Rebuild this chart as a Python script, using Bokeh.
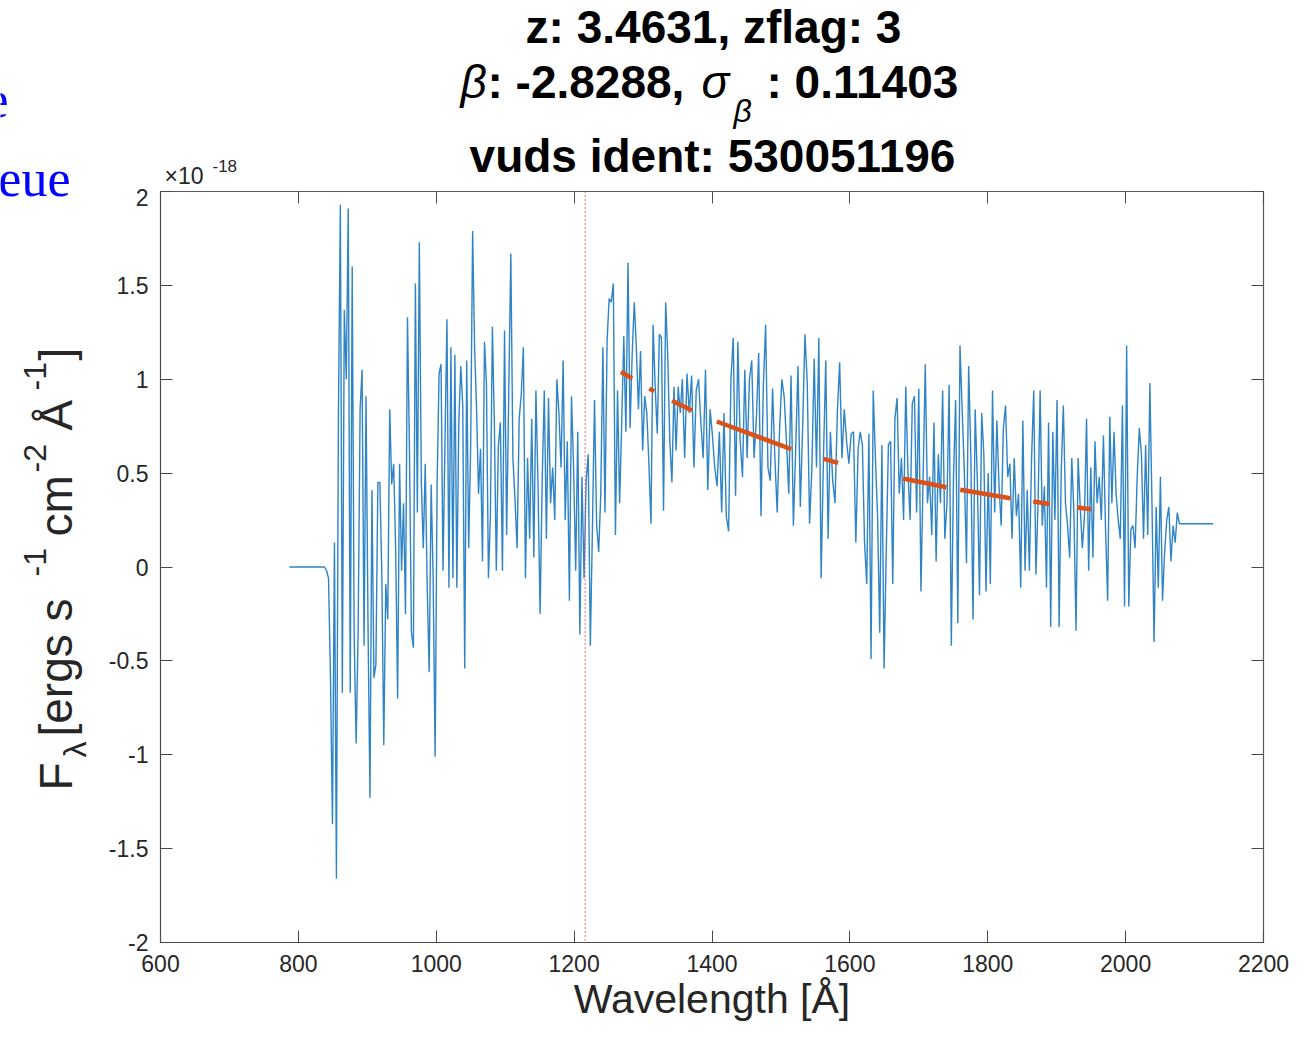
import numpy as np
from bokeh.plotting import figure
from bokeh.models import Label, LinearAxis, FixedTicker, Span, Range1d
from bokeh.layouts import column, row
from bokeh.embed import file_html
from bokeh.resources import INLINE

# ---------------- data (flux in units of 1e-18 erg s^-1 cm^-2 A^-1) ----------------
flux_a = [0.0, -0.02, -0.06, -0.59, -1.37, 0.13, -1.66, 0.79, 1.93, -0.67, 1.37, 1.0, 1.91, -0.67, 1.6,
          -0.37, -0.94, -0.35, 0.84, 1.05, -0.42, 0.91, -0.3, -1.23, 0.41, -0.59, -0.52, 0.45, 0.45, -0.04,
          -0.95, -0.09, -0.28, 0.84, 0.44, 0.55, 0.1, -0.7, 0.55, -0.02, 0.34, -0.25, 1.33, 0.62, -0.35,
          -0.43, 1.51, 0.29, 1.73, 0.46, 0.1, 0.55, -0.11, -0.56, 0.44, -0.06, -1.01, 0.43, 1.03, 1.08,
          -0.02, 0.67, 1.32, -0.11, 1.17, -0.06, 1.13, -0.11, 0.77, 1.07, 0.86, -0.54, 1.1, 0.1, 0.64,
          1.79, 1.17, 0.84, 0.39, 0.63, 0.03, 1.2, 0.98, -0.06, 0.27, 1.28, 0.77, -0.02, 0.64]
flux_b = [0.77, -0.02, 1.26, 0.17, 0.92, 1.67, 0.58, 0.36, 0.1, 0.79, 0.92, 1.17, -0.06, 0.58, 0.15,
          0.79, 0.05, 0.94, 0.43, -0.25, 0.46, 0.94, 0.15, 0.9, 0.34, 0.53, 0.25, 1.0, 0.82, 0.53,
          1.1, 0.25, 0.67, -0.18, 0.91, 0.53, -0.02, 0.72, -0.36, 0.48, -0.06, 0.46, 0.6, -0.42, 0.2,
          0.89, 0.23, 0.08, 0.39, 1.17, 0.29, 1.2, 1.43, 1.41, 1.51, 0.17, 0.94, 0.34, 0.77, 1.23,
          0.72, 1.62, 0.74, 1.13, 1.41, 1.17, 0.84, 1.15, 0.62, 0.91, 0.82, 0.55, 0.23, 1.29, 0.96,
          0.71, 1.24, 1.22, 0.3, 1.41, 1.13, 0.67, 0.45, 0.96, 0.62, 0.96, 0.82]
flux_c = [1.0, 0.58, 1.03, 0.82, 1.02, 0.53, 0.94, 1.0, 0.77, 0.58, 1.05, 0.41, 0.84, 0.7, 0.53,
          0.43, 0.72, 0.29, 0.82, 0.27, 0.19, 1.0, 1.22, 0.38, 1.2, 0.67, 0.48, 1.05, 0.58, 1.0,
          1.1, 0.58, 0.79, 1.14, 0.27, 0.96, 1.29, 0.53, 0.46, 0.95, 0.58, 0.29, 0.72, 1.0, 0.91,
          0.67, 0.39, 1.02, 0.22, 0.63, 1.07, 0.32, 0.74, 1.24, 0.98, 0.23, 0.53, 1.11, 0.53, 1.22,
          -0.06, 0.58, 1.1, 0.15, 0.72, 0.46, 0.34, 0.82, 1.09, 0.58, 0.84, 0.67, 0.55, 0.71, 0.72,
          0.13, 0.63]
flux_d = [0.72, 0.65, 0.13, -0.09, 0.71, -0.49, 0.94, 0.58, 0.27, -0.35, 0.65, -0.54, 0.08, 0.65, 0.67,
          -0.09, 0.79, 0.9, 0.39, 0.58, 0.25, 0.96, 0.51, 0.25, 0.87, 0.91, 0.29, 0.95, -0.13, 0.48,
          1.08, 0.34, 0.48, 0.17, 0.77, 0.03, 0.6, 0.34, 0.94, 0.15, 0.34, 0.97, -0.42, 0.48, 0.89,
          -0.3, 1.18, 0.84, 0.51, 0.02, 1.07, 0.6, -0.28, 0.84, 0.46, -0.15, 0.82, 0.6, -0.13, 0.5,
          -0.09, 0.94, 0.29, 0.78, 0.43, 0.22, 0.74, 0.86, 0.48, 0.55, 0.15, 0.58, 0.27, 0.39, -0.11,
          0.78, -0.02, 0.41, -0.02, 0.58, 0.94, -0.04, 0.34]
flux_e = [0.94, 0.22, 0.43, -0.11, 0.77, -0.32, 0.72, 0.25, 0.89, -0.32, 0.51, 0.86, 0.34, 0.22, 0.05,
          0.58, 0.29, -0.34, 0.58, 0.32, 0.1, 0.27, 0.79, -0.02, 0.53, 0.05, 0.67, 0.34, 0.48, 0.25,
          0.7, 0.2, -0.18, 0.8, 0.34, 0.72, 0.39, 0.25, 0.15, 0.86, -0.21, 1.18, -0.21, 0.2, 0.22,
          0.1, 0.48, 0.74, 0.6, 0.15, 0.65, 0.17, 0.98, 0.34, -0.4, 0.32, -0.11, 0.48, -0.18, 0.08,
          0.25, 0.32, 0.03, 0.22, 0.13, 0.29, 0.23]
segment_edges = [(838, 1090), (1093, 1354), (1357, 1612), (1615, 1873), (1876, 2078)]
pad_start_wave, pad_start_flux = 787, 0.0
pad_end_wave, pad_end_flux = 2127, 0.23

lya_wave = 1216

# Calzetti windows used for the power-law (beta) fit, with fit flux at window edges
fit_lo = [1268, 1309, 1342, 1407, 1562, 1677, 1760, 1866, 1930]
fit_hi = [1284, 1316, 1371, 1515, 1583, 1740, 1833, 1890, 1950]
fit_flux_lo = [1.04, 0.95, 0.886, 0.775, 0.576, 0.471, 0.411, 0.349, 0.317]
fit_flux_hi = [1.004, 0.936, 0.834, 0.628, 0.555, 0.425, 0.366, 0.336, 0.308]

xticks = [600, 800, 1000, 1200, 1400, 1600, 1800, 2000, 2200]
yticks = [-2, -1.5, -1, -0.5, 0, 0.5, 1, 1.5, 2]
ytick_labels = ["-2", "-1.5", "-1", "-0.5", "0", "0.5", "1", "1.5", "2"]

# ---------------- assemble spectrum ----------------
segs = [flux_a, flux_b, flux_c, flux_d, flux_e]
wave = [pad_start_wave]
flux = [pad_start_flux]
for (lo, hi), f in zip(segment_edges, segs):
    wave += list(np.linspace(lo, hi, len(f)))
    flux += f
wave.append(pad_end_wave)
flux.append(pad_end_flux)

FONT = "Liberation Sans"
TXT = "#262626"

# ---------------- layout geometry (pixels) ----------------
W_TOTAL = 1289
H_TOTAL = 1026
W_LEFT = 100         # tall band holding the y-axis label (full height)
H_TOP = 188          # band holding the title, right of the left band
W_RIGHT = W_TOTAL - W_LEFT
H_MAIN = H_TOTAL - H_TOP

def no_align(f):
    try:
        f.frame_align = False
    except Exception:
        pass

def blank_fig(w, h, x0, x1, y0, y1):
    f = figure(width=w, height=h, x_range=Range1d(x0, x1), y_range=Range1d(y0, y1),
               output_backend="svg", toolbar_location=None,
               x_axis_type=None, y_axis_type=None,
               min_border_left=0, min_border_right=0, min_border_top=0, min_border_bottom=0)
    f.grid.visible = False
    f.outline_line_color = None
    f.background_fill_color = "white"
    f.border_fill_color = "white"
    no_align(f)
    return f

def lab(f, px, py, text, size, align="left", style="normal", font=FONT, color="black", angle=0):
    # (px, py) is the wanted baseline position in page pixels
    shift = 0.36 * size
    if angle == 0:
        py = py - shift
    else:
        px = px - shift
    f.add_layout(Label(x=px, y=py, text=text, text_font=font, text_font_size=f"{size}px",
                       text_font_style=style, text_color=color, text_align=align,
                       text_baseline="alphabetic", angle=angle, angle_units="deg"))

# left band (full height): page coordinates, y downwards
left = blank_fig(W_LEFT, H_TOTAL, 0, W_LEFT, H_TOTAL, 0)
lab(left, 8, 118, "e", 52, align="right", font="Liberation Serif", color="#0000ff")
lab(left, 70, 197, "eue", 52, align="right", font="Liberation Serif", color="#0000ff")
lab(left, 72, 790, "F", 46, angle=90, color=TXT)
lab(left, 86, 757, "λ", 32, angle=90, color=TXT)
lab(left, 72, 736, "[ergs s", 46, angle=90, color=TXT)
lab(left, 46, 576, "-1", 32, angle=90, color=TXT)
lab(left, 72, 536, "cm", 46, angle=90, color=TXT)
lab(left, 46, 472, "-2", 32, angle=90, color=TXT)
lab(left, 72, 430, "Å", 46, angle=90, color=TXT)
lab(left, 46, 390, "-1", 32, angle=90, color=TXT)
lab(left, 72, 360, "]", 46, angle=90, color=TXT)

# top band: page coordinates, y downwards
top = blank_fig(W_RIGHT, H_TOP, W_LEFT, W_TOTAL, H_TOP, 0)
lab(top, 713, 43, "z: 3.4631, zflag: 3", 46, align="center", style="bold")
lab(top, 460, 98, "β", 46, style="italic")
lab(top, 487, 98, ": -2.8288,", 46, style="bold")
lab(top, 701, 98, "σ", 46, style="italic")
lab(top, 733, 122, "β", 32, style="italic")
lab(top, 766, 98, ": 0.11403", 46, style="bold")
lab(top, 712, 172, "vuds ident: 530051196", 46, align="center", style="bold")
lab(top, 164, 184, "×10", 23, color=TXT)
lab(top, 212, 172, "-18", 17, color=TXT)

# ---------------- main plot ----------------
p = figure(frame_width=1103, frame_height=751,
           x_range=Range1d(600, 2200), y_range=Range1d(-2, 2),
           output_backend="svg", toolbar_location=None,
           min_border_left=160 - W_LEFT, min_border_right=W_TOTAL - 160 - 1103,
           min_border_top=191 - H_TOP, min_border_bottom=H_MAIN - (191 - H_TOP) - 751)
no_align(p)
p.background_fill_color = "white"
p.border_fill_color = "white"
p.grid.visible = False
p.outline_line_color = "#5a5a5a"
p.outline_line_width = 1.2

for ax in (p.xaxis[0], p.yaxis[0]):
    ax.major_tick_in = 12
    ax.major_tick_out = 0
    ax.minor_tick_line_color = None
    ax.axis_line_color = "#4a4a4a"
    ax.major_tick_line_color = "#4a4a4a"
    ax.major_label_text_font = FONT
    ax.major_label_text_font_size = "23px"
    ax.major_label_text_color = TXT

p.xaxis.ticker = FixedTicker(ticks=xticks)
p.xaxis.major_label_standoff = 12
p.xaxis.axis_label = "Wavelength [Å]"
p.xaxis.axis_label_text_font = FONT
p.xaxis.axis_label_text_font_size = "41px"
p.xaxis.axis_label_text_font_style = "normal"
p.xaxis.axis_label_text_color = TXT
p.xaxis.axis_label_standoff = 1

p.yaxis.ticker = FixedTicker(ticks=yticks)
p.yaxis.major_label_overrides = {t: l for t, l in zip(yticks, ytick_labels)}
p.yaxis.major_label_standoff = 12

top_ax = LinearAxis(ticker=FixedTicker(ticks=xticks), major_tick_in=12, major_tick_out=0,
                    minor_tick_line_color=None, axis_line_color=None, major_tick_line_color="#4a4a4a",
                    major_label_overrides={t: "" for t in xticks}, major_label_standoff=0,
                    major_label_text_font_size="0px")
right_ax = LinearAxis(ticker=FixedTicker(ticks=yticks), major_tick_in=12, major_tick_out=0,
                      minor_tick_line_color=None, axis_line_color=None, major_tick_line_color="#4a4a4a",
                      major_label_overrides={t: "" for t in yticks}, major_label_standoff=0,
                      major_label_text_font_size="0px")
p.add_layout(top_ax, "above")
p.add_layout(right_ax, "right")

# Ly-alpha marker
p.add_layout(Span(location=lya_wave, dimension="height", line_color="#ff4a5a",
                  line_dash="1 3", line_width=1.6))

# spectrum
p.line(wave, flux, line_color="#2f84c7", line_width=1.4)

# power-law fit in windows
p.multi_line(xs=[[a, b] for a, b in zip(fit_lo, fit_hi)],
             ys=[[a, b] for a, b in zip(fit_flux_lo, fit_flux_hi)],
             line_color="#D95319", line_width=4.5)

layout = row(left, column(top, p, spacing=0), spacing=0)

open("out.html", "w").write(file_html(layout, INLINE))
